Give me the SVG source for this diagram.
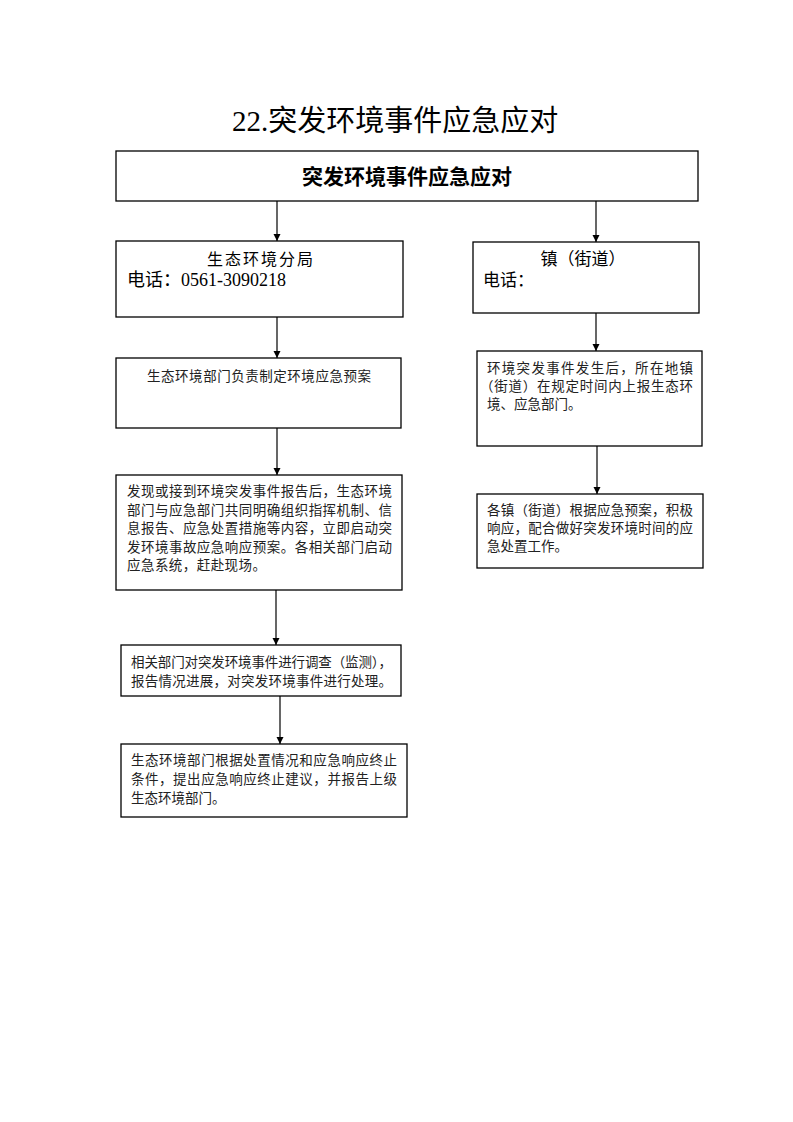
<svg xmlns="http://www.w3.org/2000/svg" width="793" height="1122" viewBox="0 0 793 1122">
<defs>
<style>
.box{fill:#fff;stroke:#000;stroke-width:1.3}
.t{font-family:"Liberation Serif","Noto Sans CJK SC",serif;fill:#000}
.s{font-family:"Noto Sans CJK SC","Liberation Sans",sans-serif;fill:#222;font-size:13.5px}
.c{stroke:#000;stroke-width:1.2;fill:none;marker-end:url(#ah)}
</style>
<marker id="ah" viewBox="0 0 10 10" refX="10" refY="5" markerWidth="7" markerHeight="8" markerUnits="userSpaceOnUse" orient="auto">
<path d="M0,0 L10,5 L0,10 z" fill="#000"/>
</marker>
</defs>
<rect width="793" height="1122" fill="#fff"/>
<text class="t" x="232" y="131" font-size="29">22.突发环境事件应急应对</text>

<g id="connectors">
<line class="c" x1="277" y1="201" x2="277" y2="241"/>
<line class="c" x1="596" y1="201" x2="596" y2="242"/>
<line class="c" x1="277" y1="317" x2="277" y2="358"/>
<line class="c" x1="596" y1="313" x2="596" y2="351"/>
<line class="c" x1="277" y1="428" x2="277" y2="475"/>
<line class="c" x1="597" y1="446" x2="597" y2="494"/>
<line class="c" x1="276" y1="590" x2="276" y2="645"/>
<line class="c" x1="280" y1="696" x2="280" y2="744"/>
</g>

<g id="n-top">
<rect class="box" x="116" y="151" width="582" height="50"/>
<text x="407" y="184" text-anchor="middle" font-family="Noto Sans CJK SC,sans-serif" font-weight="bold" font-size="21">突发环境事件应急应对</text>
</g>

<g id="n-bureau">
<rect class="box" x="116" y="241" width="287" height="76"/>
<text class="t" x="261" y="265" text-anchor="middle" font-size="16" letter-spacing="2">生态环境分局</text>
<text class="t" x="127" y="286" font-size="18">电话：0561-3090218</text>
</g>

<g id="n-town">
<rect class="box" x="473" y="242" width="226" height="71"/>
<text class="t" x="583" y="265" text-anchor="middle" font-size="17">镇（街道）</text>
<text class="t" x="483" y="286" font-size="17">电话：</text>
</g>

<g id="n-plan">
<rect class="box" x="116" y="358" width="285" height="70"/>
<text class="s" x="147" y="381" textLength="224" lengthAdjust="spacing">生态环境部门负责制定环境应急预案</text>
</g>

<g id="n-report">
<rect class="box" x="477" y="351" width="225" height="95"/>
<text class="s" x="487" y="373" textLength="206" lengthAdjust="spacing">环境突发事件发生后，所在地镇</text>
<text class="s" x="480" y="391" textLength="213" lengthAdjust="spacing">（街道）在规定时间内上报生态环</text>
<text class="s" x="487" y="409">境、应急部门。</text>
</g>

<g id="n-respond">
<rect class="box" x="477" y="494" width="226" height="74"/>
<text class="s" x="487" y="515" textLength="206" lengthAdjust="spacing">各镇（街道）根据应急预案，积极</text>
<text class="s" x="487" y="533" textLength="206" lengthAdjust="spacing">响应，配合做好突发环境时间的应</text>
<text class="s" x="487" y="551">急处置工作。</text>
</g>

<g id="n-start">
<rect class="box" x="116" y="475" width="286" height="115"/>
<text class="s" x="127" y="496" textLength="265" lengthAdjust="spacing">发现或接到环境突发事件报告后，生态环境</text>
<text class="s" x="127" y="514.5" textLength="265" lengthAdjust="spacing">部门与应急部门共同明确组织指挥机制、信</text>
<text class="s" x="127" y="533" textLength="265" lengthAdjust="spacing">息报告、应急处置措施等内容，立即启动突</text>
<text class="s" x="127" y="551.5" textLength="265" lengthAdjust="spacing">发环境事故应急响应预案。各相关部门启动</text>
<text class="s" x="127" y="570" textLength="139" lengthAdjust="spacing">应急系统，赶赴现场。</text>
</g>

<g id="n-investigate">
<rect class="box" x="121" y="645" width="280" height="51"/>
<text class="s" x="131" y="667" textLength="261" lengthAdjust="spacing">相关部门对突发环境事件进行调查（监测），</text>
<text class="s" x="131" y="686" textLength="261" lengthAdjust="spacing">报告情况进展，对突发环境事件进行处理。</text>
</g>

<g id="n-terminate">
<rect class="box" x="121" y="744" width="286" height="73"/>
<text class="s" x="131" y="765" textLength="266" lengthAdjust="spacing">生态环境部门根据处置情况和应急响应终止</text>
<text class="s" x="131" y="784" textLength="266" lengthAdjust="spacing">条件，提出应急响应终止建议，并报告上级</text>
<text class="s" x="131" y="803">生态环境部门。</text>
</g>
</svg>
